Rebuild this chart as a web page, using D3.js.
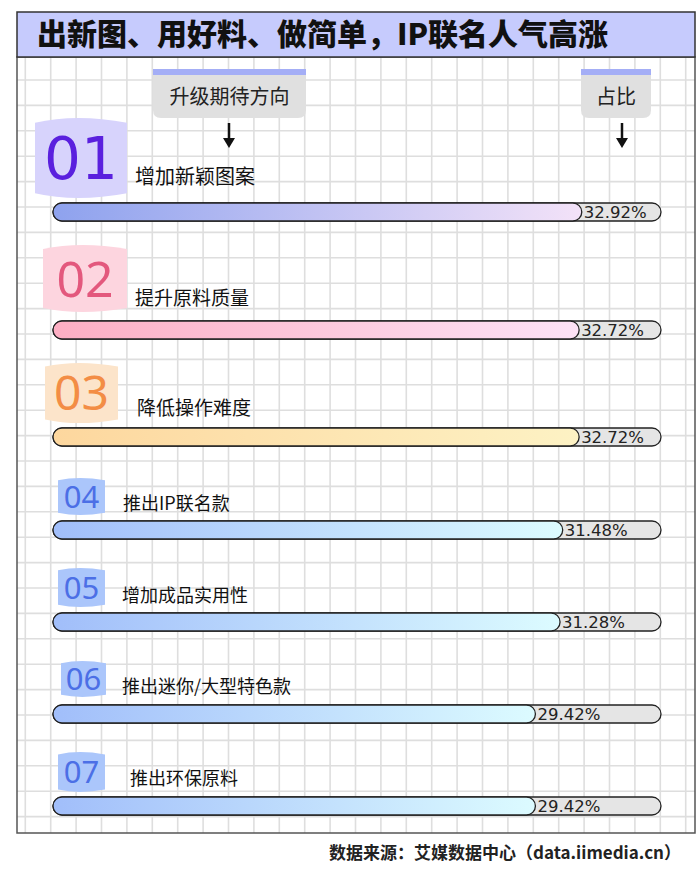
<!DOCTYPE html>
<html><head><meta charset="utf-8">
<script src="https://cdn.jsdelivr.net/npm/d3@7/dist/d3.min.js"></script>
<style>html,body{margin:0;padding:0;background:#fff;}svg{display:block;}</style>
</head><body>
<script>
// ---- data ----
const title = "出新图、用好料、做简单，IP联名人气高涨";
const headerLeft = "升级期待方向";
const headerRight = "占比";
const ranks = ["01","02","03","04","05","06","07"];
const categories = ["增加新颖图案","提升原料质量","降低操作难度","推出IP联名款","增加成品实用性","推出迷你/大型特色款","推出环保原料"];
const values = [32.92, 32.72, 32.72, 31.48, 31.28, 29.42, 29.42];
const source = "数据来源：艾媒数据中心（data.iimedia.cn）";

// ---- styles ----
const badgeFill = ["#d7d3fc","#fdd5df","#fce4ca","#abc6fb","#abc6fb","#abc6fb","#abc6fb"];
const numColor  = ["#5a20de","#e3587d","#f38d45","#4c6fe6","#4c6fe6","#4c6fe6","#4c6fe6"];
const gradFrom  = ["#8ea2ee","#fdaec3","#fdd79e","#a1befa","#a1befa","#a1befa","#a1befa"];
const gradTo    = ["#f3e2f8","#fde2f6","#fdf2c4","#dcfbff","#dcfbff","#dcfbff","#dcfbff"];

// ---- layout ----
const W = 700, H = 870;
const frame = {x0:17, x1:695, y0:12, y1:833, tb:57};
const rows = [
  {bx:[35,127], by:[118,198], nf:58, lx:135, ly:184, lf:20, y:203},
  {bx:[43,127], by:[245,312], nf:50, lx:135, ly:305, lf:19, y:321},
  {bx:[45,118], by:[363,423], nf:48, lx:137, ly:415, lf:19, y:428},
  {bx:[58,105], by:[478,515], nf:31, lx:123, ly:510, lf:18, y:521},
  {bx:[58,105], by:[568,607], nf:31, lx:122, ly:602, lf:18, y:613},
  {bx:[61,106], by:[661,697], nf:31, lx:122, ly:693, lf:18, y:705},
  {bx:[58,105], by:[752,792], nf:31, lx:130, ly:785, lf:18, y:797}
];
const barH = 18;
// track spans the full axis; axis domain chosen so fill ends match the picture
const x = d3.scaleLinear().domain([-7, 38.9]).range([53, 661]);

const svg = d3.select("body").append("svg").attr("width", W).attr("height", H);
const defs = svg.append("defs");

// grid
const g = svg.append("g");
const vx = d3.range(25.3, frame.x1, 25.4);
const hy = d3.range(54.6, frame.y1, 25.4).filter(v => v > frame.tb);
g.selectAll("line.v").data(vx).join("line")
  .attr("x1", d => d).attr("x2", d => d).attr("y1", frame.tb).attr("y2", frame.y1)
  .attr("stroke", "#dedede").attr("stroke-width", 1.6);
g.selectAll("line.h").data(hy).join("line")
  .attr("x1", frame.x0).attr("x2", frame.x1).attr("y1", d => d).attr("y2", d => d)
  .attr("stroke", "#dedede").attr("stroke-width", 1.6);

// frame
svg.append("rect").attr("x", frame.x0).attr("y", frame.tb).attr("width", frame.x1-frame.x0)
  .attr("height", frame.y1-frame.tb).attr("fill", "none").attr("stroke", "#555").attr("stroke-width", 1.5);
svg.append("rect").attr("x", frame.x0).attr("y", frame.y0).attr("width", frame.x1-frame.x0)
  .attr("height", frame.tb-frame.y0).attr("fill", "#c6cbfd").attr("stroke", "#333").attr("stroke-width", 1.5);
svg.append("text").attr("x", 37).attr("y", 45).text(title)
  .attr("font-family", "'Noto Sans CJK SC'").attr("font-weight", 900).attr("font-size", 30).attr("fill", "#111");

// headers
function header(x0, x1, label, ax) {
  svg.append("path")
    .attr("d", `M${x0},75 H${x1} V110 Q${x1},118 ${x1-8},118 H${x0+8} Q${x0},118 ${x0},110 Z`)
    .attr("fill", "#e0e0e0");
  svg.append("rect").attr("x", x0).attr("y", 69).attr("width", x1-x0).attr("height", 6).attr("fill", "#a4aef6");
  svg.append("text").attr("x", (x0+x1)/2).attr("y", 104).attr("text-anchor", "middle").text(label)
    .attr("font-family", "'Noto Sans CJK SC'").attr("font-size", 20).attr("fill", "#222");
  svg.append("line").attr("x1", ax).attr("x2", ax).attr("y1", 123).attr("y2", 139)
    .attr("stroke", "#111").attr("stroke-width", 2.5);
  svg.append("path").attr("d", `M${ax-6},138 L${ax+6},138 L${ax},148 Z`).attr("fill", "#111");
}
header(153, 306, headerLeft, 229);
header(581, 651, headerRight, 622);

// rows
function pill(x0, x1, y, h) {
  const r = h/2;
  return `M${x0+r},${y} H${x1-r} A${r},${r} 0 0 1 ${x1-r},${y+h} H${x0+r} A${r},${r} 0 0 1 ${x0+r},${y} Z`;
}
categories.forEach((c, i) => {
  const L = rows[i];
  const [bx0, bx1] = L.bx, [by0, by1] = L.by;
  const d = (by1 - by0) * 0.06, mx = bx0 + (bx1-bx0)*0.45;
  svg.append("path")
    .attr("d", `M${bx0},${by0+d} Q${mx},${by0-d} ${bx1},${by0+d} L${bx1},${by1-d} Q${mx},${by1+d} ${bx0},${by1-d} Z`)
    .attr("fill", badgeFill[i]);
  svg.append("text").attr("x", (bx0+bx1)/2).attr("y", (by0+by1)/2 + L.nf*0.36)
    .attr("text-anchor", "middle").text(ranks[i])
    .attr("font-family", i === 0 ? "'DejaVu Sans'" : "'Noto Sans'").attr("font-size", L.nf)
    .attr("fill", numColor[i]);
  svg.append("text").attr("x", L.lx).attr("y", L.ly).text(c)
    .attr("font-family", "'Noto Sans CJK SC'").attr("font-size", L.lf).attr("fill", "#111");

  const gid = "grad" + i;
  const lg = defs.append("linearGradient").attr("id", gid).attr("x1", "0%").attr("x2", "100%");
  lg.append("stop").attr("offset", "0%").attr("stop-color", gradFrom[i]);
  lg.append("stop").attr("offset", "100%").attr("stop-color", gradTo[i]);

  const x0 = x.range()[0];
  svg.append("path").attr("d", pill(x0, x.range()[1], L.y, barH))
    .attr("fill", "#e5e5e5").attr("stroke", "#222").attr("stroke-width", 1.3);
  const xe = x(values[i]);
  svg.append("path").attr("d", pill(x0, xe, L.y, barH))
    .attr("fill", `url(#${gid})`).attr("stroke", "#222").attr("stroke-width", 1.3);
  svg.append("text").attr("x", xe + 2).attr("y", L.y + barH/2 + 6)
    .text(values[i].toFixed(2) + "%")
    .attr("font-family", "'DejaVu Sans'").attr("font-size", 16.5).attr("fill", "#222");
});

svg.append("text").attr("x", 681).attr("y", 859).attr("text-anchor", "end").text(source)
  .attr("font-family", "'Noto Sans CJK SC'").attr("font-weight", 700).attr("font-size", 17).attr("fill", "#222");
</script>
</body></html>
